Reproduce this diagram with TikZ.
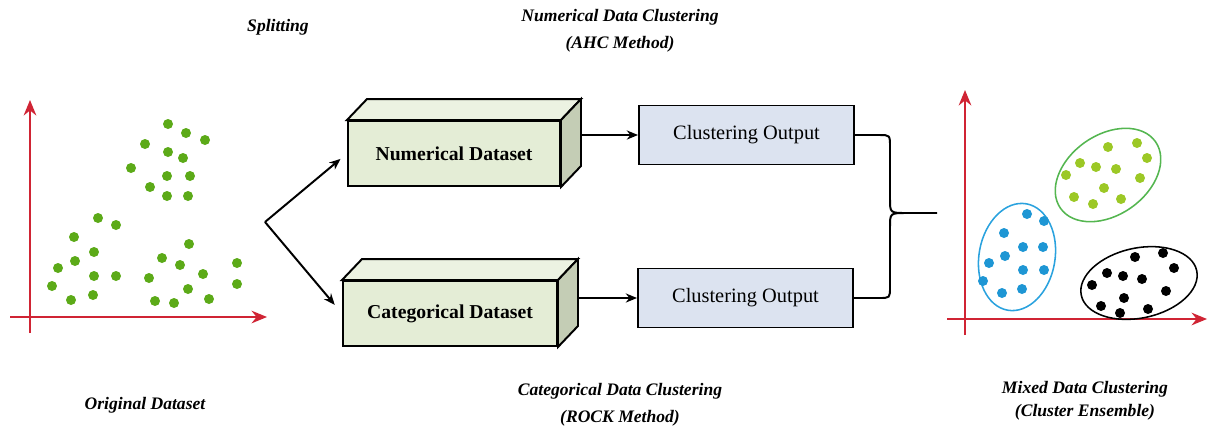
\documentclass[tikz,border=0pt]{standalone}
\usepackage{fontspec}
\setmainfont{Liberation Serif}
\usetikzlibrary{arrows.meta,calc}

\definecolor{axisred}{RGB}{208,36,52}
\definecolor{dotgreen}{RGB}{92,170,24}
\definecolor{dotlime}{RGB}{156,200,38}
\definecolor{dotblue}{RGB}{30,150,212}
\definecolor{ringgreen}{RGB}{84,182,80}
\definecolor{ringblue}{RGB}{42,162,222}
\definecolor{facegreen}{RGB}{228,237,214}
\definecolor{topgreen}{RGB}{236,242,226}
\definecolor{sidegreen}{RGB}{196,205,181}
\definecolor{outblue}{RGB}{220,227,240}

\tikzset{
    axis/.style={line width=1.1pt, axisred, -{Stealth[length=11pt,width=9pt]}},
    link/.style={line width=1.4pt, -{Stealth[length=8pt,width=6.5pt]}},
    dataset/.style={draw, line width=1.4pt, fill=facegreen, font=\bfseries\fontsize{14}{16}\selectfont},
    outbox/.style={draw, line width=1.4pt, fill=outblue, minimum width=215*0.025cm, minimum height=59*0.025cm, font=\fontsize{14.5}{16}\selectfont},
    caption/.style={align=center, font=\bfseries\itshape\fontsize{12.5}{19}\selectfont},
}

\begin{document}
\begin{tikzpicture}[x=0.025cm, y=-0.025cm]
    \useasboundingbox (0,0) rectangle (1211,430);

    % Ausgangsdaten links
    \draw[axis] (10,317) -- (267,317);
    \draw[axis] (30,333) -- (30,100);
    \foreach \px/\py in {168/124,186/133,205/140,145/144,168/152,183/158,131/168,167/176,190/176,150/187,167/196,188/196,
                         98/218,116/225,74/237,94/252,75/261,58/268,94/276,116/276,52/286,71/300,93/295,
                         189/244,162/258,180/265,149/278,203/274,237/263,237/284,188/289,155/301,174/303,209/299}
        \fill[dotgreen] (\px,\py) circle (5);

    % Aufteilung
    \coordinate (fork) at (265,222);

    % Quader fuer die beiden Teildaten
    \node[dataset, minimum width=212*0.025cm, minimum height=65*0.025cm] (num) at (454,153.5) {Numerical Dataset};
    \node[dataset, minimum width=214*0.025cm, minimum height=65*0.025cm] (cat) at (450,313.5) {Categorical Dataset};
    \foreach \blk in {num,cat} {
        \draw[line width=1.4pt, fill=topgreen] (\blk.north west) -- ++(20,-21) -- ($(\blk.north east)+(20,-21)$) -- (\blk.north east) -- cycle;
        \draw[line width=1.4pt, fill=sidegreen] (\blk.north east) -- ++(20,-21) -- ($(\blk.south east)+(20,-21)$) -- (\blk.south east) -- cycle;
        \coordinate (\blk-back) at ($(\blk.north east)+(20,-21)$);
    }

    \draw[link, shorten >=6pt] (fork) -- (num.west);
    \draw[link, shorten >=8pt] (fork) -- (cat.west);

    % Ergebnisse der Verfahren
    \node[outbox] (out1) at (746.5,135) {Clustering Output};
    \node[outbox] (out2) at (745.5,298) {Clustering Output};
    \draw[link] (out1.west -| num-back) -- (out1.west);
    \draw[link] (out2.west -| cat-back) -- (out2.west);

    % Zusammenfuehrung
    \coordinate (merge) at (937,213);
    \draw[line width=1.4pt] (out1.east) -- (879,135) .. controls (890,135) .. (890,147) -- (890,199)
        .. controls (890,213) .. (907,213) -- (merge);
    \draw[line width=1.4pt] (out2.east) -- (879,298) .. controls (890,298) .. (890,287) -- (890,227)
        .. controls (890,213) .. (907,213);

    % Cluster rechts
    \draw[axis] (947,319) -- (1207,319);
    \draw[axis] (965,335) -- (965,90);
    \draw[ringgreen, line width=1.1pt, rotate around={35:(1108,175)}] (1108,175) ellipse [x radius=58, y radius=40];
    \draw[ringblue, line width=1.1pt, rotate around={80:(1017,257)}] (1017,257) ellipse [x radius=54, y radius=38];
    \draw[black, line width=1.1pt, rotate around={12:(1139,283)}] (1139,283) ellipse [x radius=59, y radius=35];
    \foreach \px/\py in {1108/147,1137/143,1147/158,1080/163,1096/167,1116/169,1066/175,1140/178,1104/188,1074/197,1121/199,1093/204}
        \fill[dotlime] (\px,\py) circle (5);
    \foreach \px/\py in {1027/214,1044/221,1004/233,1023/247,1043/247,1005/256,989/263,1023/270,1044/270,983/281,1002/293,1022/289}
        \fill[dotblue] (\px,\py) circle (5);
    \foreach \px/\py in {1135/257,1163/253,1174/268,1107/273,1123/276,1142/279,1092/285,1166/291,1124/298,1101/306,1120/313,1148/309}
        \fill[black] (\px,\py) circle (5);

    % Beschriftungen
    \node[caption] (splitlbl) at (278,27) {Splitting};
    \node[caption] (numlbl) at (620,30.5) {Numerical Data Clustering\\(AHC Method)};
    \node[caption] (catlbl) at (620,404.5) {Categorical Data Clustering\\(ROCK Method)};
    \node[caption] (origlbl) at (145,405) {Original Dataset};
    \node[caption, font=\bfseries\itshape\fontsize{12.5}{16}\selectfont] (mixlbl) at (1085,401) {Mixed Data Clustering\\(Cluster Ensemble)};
\end{tikzpicture}
\end{document}
